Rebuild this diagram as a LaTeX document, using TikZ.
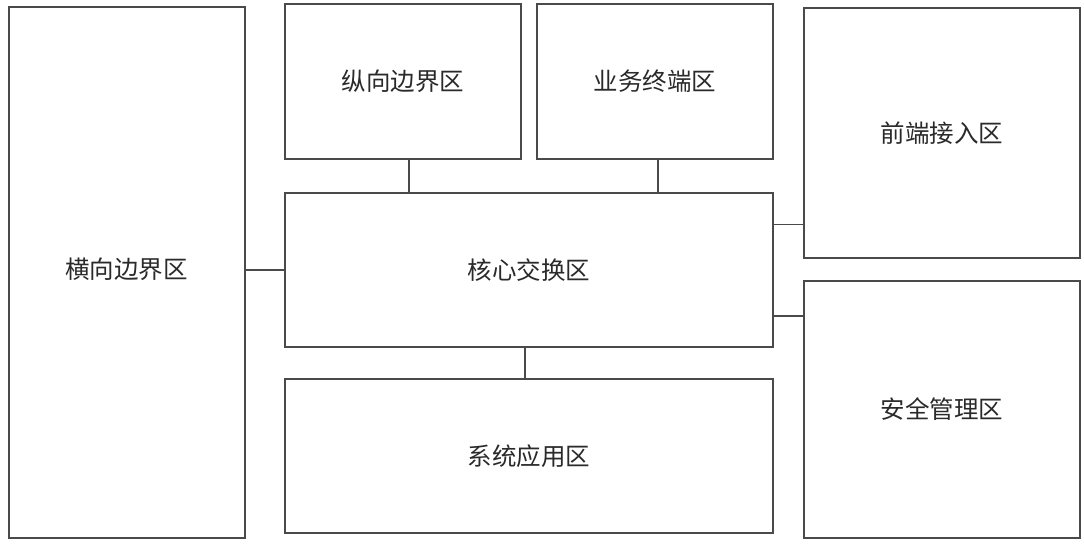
\documentclass[tikz,border=0pt]{standalone}
\usepackage{fontspec}
\newfontfamily\cjk{Noto Sans CJK SC}
\definecolor{linec}{HTML}{4A4A4A}
\definecolor{textc}{HTML}{2A2A2A}
\begin{document}
\begin{tikzpicture}[x=1pt,y=-1pt,
  box/.style={draw=linec,line width=2pt,rectangle,inner sep=0pt,
    font=\cjk\fontsize{24.5}{28}\selectfont,text=textc},
  conn/.style={draw=linec,line width=1.8pt}]
\useasboundingbox[fill=white] (0,0) rectangle (1084,544);
\node[box,minimum width=236pt,minimum height=531.5pt] (hx) at (126.5,272.3) {\raisebox{9pt}{横向边界区}};
\node[box,minimum width=236pt,minimum height=154.5pt] (zx) at (403,81.3) {\raisebox{-3pt}{纵向边界区}};
\node[box,minimum width=235.5pt,minimum height=154.5pt] (yw) at (654.8,81.3) {业务终端区};
\node[box,minimum width=276.5pt,minimum height=249.7pt] (qd) at (941.8,132.9) {前端接入区};
\node[box,minimum width=487.5pt,minimum height=154.6pt] (core) at (528.8,270) {核心交换区};
\node[box,minimum width=487.5pt,minimum height=153.7pt] (xt) at (528.8,456.2) {系统应用区};
\node[box,minimum width=276.5pt,minimum height=256.5pt] (aq) at (941.8,409.3) {安全管理区};
\draw[conn] (hx.east |- core.west) -- (core.west);
\draw[conn] ([xshift=5.7pt]zx.south) -- ([xshift=5.7pt]zx.south |- core.north);
\draw[conn] ([xshift=3.5pt]yw.south) -- ([xshift=3.5pt]yw.south |- core.north);
\draw[conn] ([yshift=45.5pt]core.east) -- ([yshift=45.5pt]core.east -| qd.west);
\draw[conn] ([yshift=-46pt]core.east) -- ([yshift=-46pt]core.east -| aq.west);
\draw[conn] ([xshift=-3.5pt]core.south) -- ([xshift=-3.5pt]core.south |- xt.north);
\end{tikzpicture}
\end{document}
